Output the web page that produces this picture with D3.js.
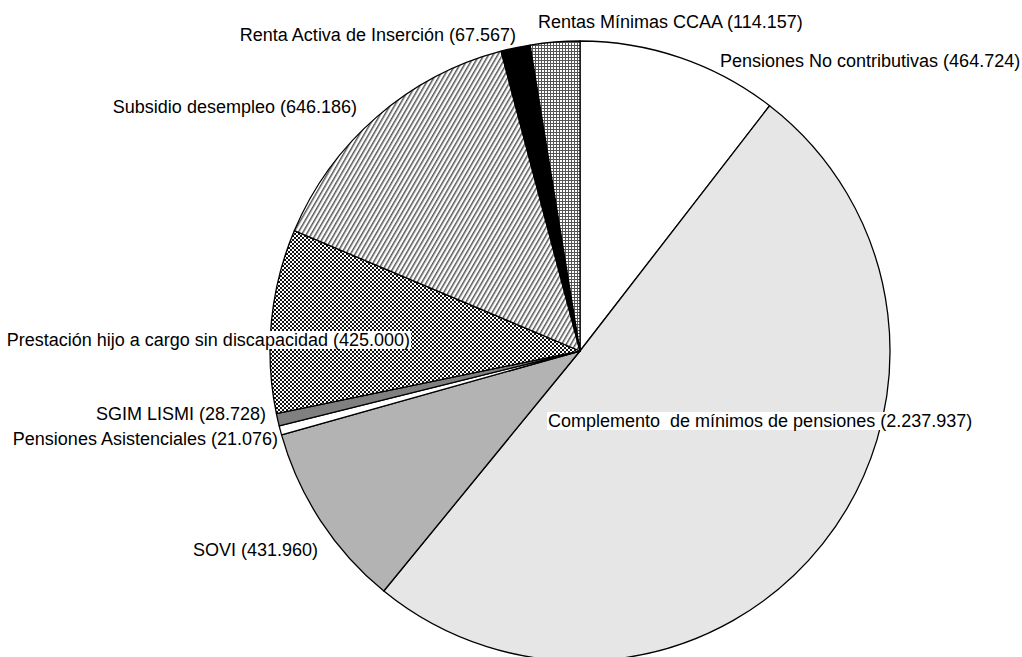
<!DOCTYPE html>
<html>
<head>
<meta charset="utf-8">
<script src="https://cdn.jsdelivr.net/npm/d3@7"></script>
<style>
  body { margin: 0; background: #fff; }
  text { font-family: "Liberation Sans", Arial, sans-serif; font-size: 18px; fill: #000; white-space: pre; }
</style>
</head>
<body>
<script>
// categorias y valores (orden horario desde las 12)
let categories = [
    "Pensiones No contributivas",
    "Complemento  de mínimos de pensiones",
    "SOVI",
    "Pensiones Asistenciales",
    "SGIM LISMI",
    "Prestación hijo a cargo sin discapacidad",
    "Subsidio desempleo",
    "Renta Activa de Inserción",
    "Rentas Mínimas CCAA"
]
let values = [464724, 2237937, 431960, 21076, 28728, 425000, 646186, 67567, 114157]
let valueLabels = ["464.724", "2.237.937", "431.960", "21.076", "28.728", "425.000", "646.186", "67.567", "114.157"]

// rellenos de cada sector
let fills = ["#ffffff", "#e6e6e6", "#b3b3b3", "#ffffff", "#808080",
    "url(#checker)", "url(#stripes)", "#000000", "url(#grid)"]

// donde va cada etiqueta (x, baseline y, anchor)
let labelPos = [
    [720, 67, "start"],
    [548, 427, "start"],
    [318, 556, "end"],
    [278, 445, "end"],
    [266, 420, "end"],
    [410, 346, "end"],
    [357, 113, "end"],
    [516, 41, "end"],
    [538, 28, "start"]
]

let width = 1022
let height = 657
let cx = 580, cy = 351, radius = 310

let svg = d3.select("body")
.append("svg")
.attr("width", width)
.attr("height", height)

let defs = svg.append("defs")

let checker = defs.append("pattern")
.attr("id", "checker")
.attr("width", 4).attr("height", 4)
.attr("patternUnits", "userSpaceOnUse")
checker.append("rect").attr("width", 4).attr("height", 4).attr("fill", "#fff")
checker.append("rect").attr("width", 2).attr("height", 2).attr("fill", "#111")
checker.append("rect").attr("x", 2).attr("y", 2).attr("width", 2).attr("height", 2).attr("fill", "#111")

let stripes = defs.append("pattern")
.attr("id", "stripes")
.attr("width", 4).attr("height", 4)
.attr("patternUnits", "userSpaceOnUse")
.attr("patternTransform", "rotate(30)")
stripes.append("rect").attr("width", 4).attr("height", 4).attr("fill", "#fff")
stripes.append("rect").attr("width", 1.5).attr("height", 4).attr("fill", "#555")

let grid = defs.append("pattern")
.attr("id", "grid")
.attr("width", 3).attr("height", 3)
.attr("patternUnits", "userSpaceOnUse")
grid.append("rect").attr("width", 3).attr("height", 3).attr("fill", "#fff")
grid.append("rect").attr("width", 3).attr("height", 1).attr("fill", "#555")
grid.append("rect").attr("width", 1).attr("height", 3).attr("fill", "#555")

let pie = d3.pie().sort(null).value(d => d)
let arc = d3.arc().innerRadius(0).outerRadius(radius)

let g = svg.append("g").attr("transform", `translate(${cx},${cy})`)

g.selectAll("path")
.data(pie(values))
.join("path")
.attr("d", arc)
.attr("fill", (d, i) => fills[i])
.attr("stroke", "#000")
.attr("stroke-width", 1.3)
.attr("stroke-linejoin", "round")

// etiquetas con fondo blanco
let labels = svg.selectAll("g.label")
.data(categories)
.join("g")
.attr("class", "label")

labels.append("text")
.attr("x", (d, i) => labelPos[i][0])
.attr("y", (d, i) => labelPos[i][1])
.attr("text-anchor", (d, i) => labelPos[i][2])
.text((d, i) => d + " (" + valueLabels[i] + ")")

labels.each(function() {
    let t = d3.select(this).select("text")
    let b = t.node().getBBox()
    d3.select(this).insert("rect", "text")
    .attr("x", b.x - 1).attr("y", b.y + 1)
    .attr("width", b.width + 2).attr("height", b.height - 2)
    .attr("fill", "#fff")
})
</script>
</body>
</html>
